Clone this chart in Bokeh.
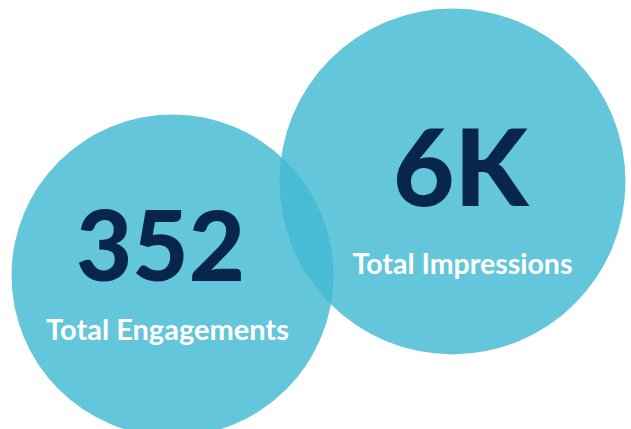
from bokeh.plotting import figure
from bokeh.models import Range1d, ColumnDataSource
from bokeh.core.properties import value
from bokeh.embed import file_html
from bokeh.resources import INLINE

# data
labels = ["Total Engagements", "Total Impressions"]
values = ["352", "6K"]

# layout (pixel space)
W, H = 631, 429
cx = [172, 452]
cy = [275, 181]
radius = [161, 173]
num_size = ["97px", "106px"]
lab_size = ["29px", "28.5px"]

p = figure(width=W, height=H, output_backend="svg", toolbar_location=None,
           x_range=Range1d(0, W), y_range=Range1d(H, 0), min_border=0)
p.axis.visible = False
p.grid.visible = False
p.outline_line_color = None
p.background_fill_color = "white"
p.border_fill_color = "white"

src = ColumnDataSource(dict(x=cx, y=cy, r=radius))
p.circle(x="x", y="y", radius="r", source=src, fill_color="#42B9D3",
         fill_alpha=0.82, line_color=None)

num_src = ColumnDataSource(dict(
    x=[cx[0] - 12, cx[1] + 8], y=[cy[0] - 30, cy[1] - 17], t=values, s=num_size))
p.text(x="x", y="y", text="t", source=num_src, text_font=value("Lato Black"),
       text_font_style="bold", text_font_size="s", text_color="#07264A",
       text_align="center", text_baseline="alphabetic")

lab_src = ColumnDataSource(dict(
    x=[cx[0] - 5, cx[1] + 10], y=[cy[0] + 53, cy[1] + 81], t=labels, s=lab_size))
p.text(x="x", y="y", text="t", source=lab_src, text_font=value("Lato"),
       text_font_style="bold", text_font_size="s", text_color="white",
       text_align="center", text_baseline="alphabetic")

open("out.html", "w").write(file_html(p, INLINE))
